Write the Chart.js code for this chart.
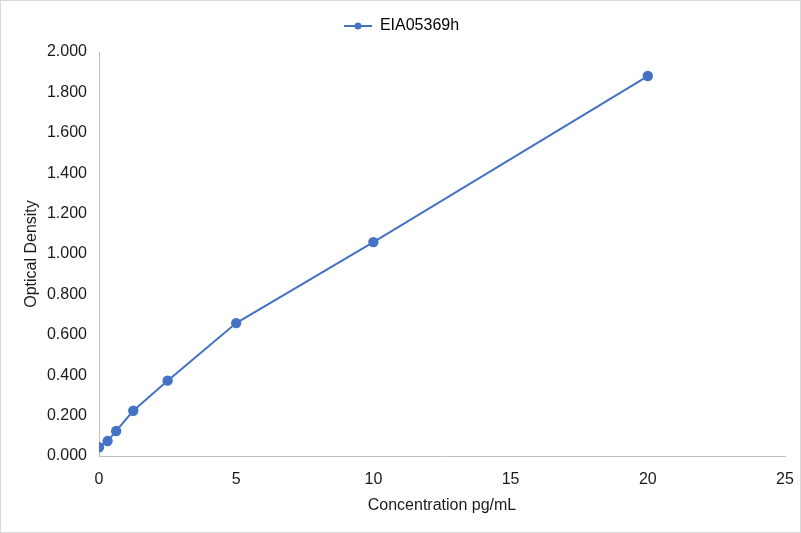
<!DOCTYPE html>
<html>
<head>
<meta charset="utf-8">
<script src="https://cdn.jsdelivr.net/npm/chart.js@4/dist/chart.umd.min.js"></script>
<style>
  html, body { margin: 0; padding: 0; background: #fff; }
  #wrap { position: relative; width: 801px; height: 533px; box-sizing: border-box; border: 1px solid #d9d9d9; }
</style>
</head>
<body>
<div id="wrap"><canvas id="curva"></canvas></div>
<script>
'use strict';
const SERIE = 'EIA05369h'
const CONC = [0, 0.3125, 0.625, 1.25, 2.5, 5, 10, 20]
const OD = [0.043, 0.074, 0.124, 0.224, 0.373, 0.658, 1.059, 1.881]
const AZUL = 'rgb(68, 114, 196)'
const CINZA = 'rgb(191, 191, 191)'
const TEXTO = '#1a1a1a'

const pontos = CONC.map(function (x, i) { return { x: x, y: OD[i] } })

// marcador da legenda: linha com ponto no meio
function marcador() {
    const c = document.createElement('canvas')
    c.width = 28
    c.height = 10
    const g = c.getContext('2d')
    g.strokeStyle = AZUL
    g.lineWidth = 2
    g.beginPath()
    g.moveTo(0, 5)
    g.lineTo(28, 5)
    g.stroke()
    g.fillStyle = AZUL
    g.beginPath()
    g.arc(14, 5, 3.5, 0, Math.PI * 2)
    g.fill()
    return c
}
const MARCA = marcador()

// espaco extra abaixo da legenda
const folgaLegenda = {
    id: 'folgaLegenda',
    beforeUpdate: function (chart) {
        const leg = chart.legend
        if (leg && !leg._folga) {
            const fit = leg.fit
            leg.fit = function () { fit.call(this); this.height += 8 }
            leg._folga = true
        }
    },
}

Chart.defaults.font.family = '"Liberation Sans", Arial, sans-serif'
Chart.defaults.font.size = 16
Chart.defaults.color = TEXTO

var ctx = document.getElementById('curva').getContext('2d')
var chart = new Chart(ctx, {
    type: 'scatter',
    data: {
        datasets: [{
            label: SERIE,
            data: pontos,
            showLine: true,
            borderColor: AZUL,
            backgroundColor: AZUL,
            borderWidth: 2,
            pointRadius: 4.2,
            pointHoverRadius: 4.2,
        }],
    },
    plugins: [folgaLegenda],
    options: {
        responsive: true,
        maintainAspectRatio: false,
        animation: false,
        layout: { padding: { top: 3, right: 15, left: 17, bottom: 13 } },
        plugins: {
            legend: {
                position: 'top',
                labels: {
                    usePointStyle: true,
                    pointStyleWidth: 28,
                    padding: 14,
                    font: { size: 16 },
                    generateLabels: function (c) {
                        return [{
                            text: SERIE,
                            strokeStyle: AZUL,
                            fillStyle: AZUL,
                            lineWidth: 0,
                            pointStyle: MARCA,
                            datasetIndex: 0,
                        }]
                    },
                },
            },
            tooltip: { enabled: false },
        },
        scales: {
            x: {
                type: 'linear',
                min: 0,
                max: 25,
                ticks: { stepSize: 5, padding: 6 },
                grid: { display: false },
                border: { display: true, color: CINZA, width: 1 },
                title: { display: true, text: 'Concentration pg/mL' },
                afterFit: function (s) { s.height = 531 - 455 - 13 },
            },
            y: {
                min: 0,
                max: 2,
                ticks: {
                    stepSize: 0.2,
                    padding: 4,
                    callback: function (v) { return v.toFixed(3) },
                },
                grid: { display: false },
                border: { display: true, color: CINZA, width: 1 },
                title: { display: true, text: 'Optical Density' },
                afterFit: function (s) { s.width = 98 - 17 },
            },
        },
    },
})
</script>
</body>
</html>
